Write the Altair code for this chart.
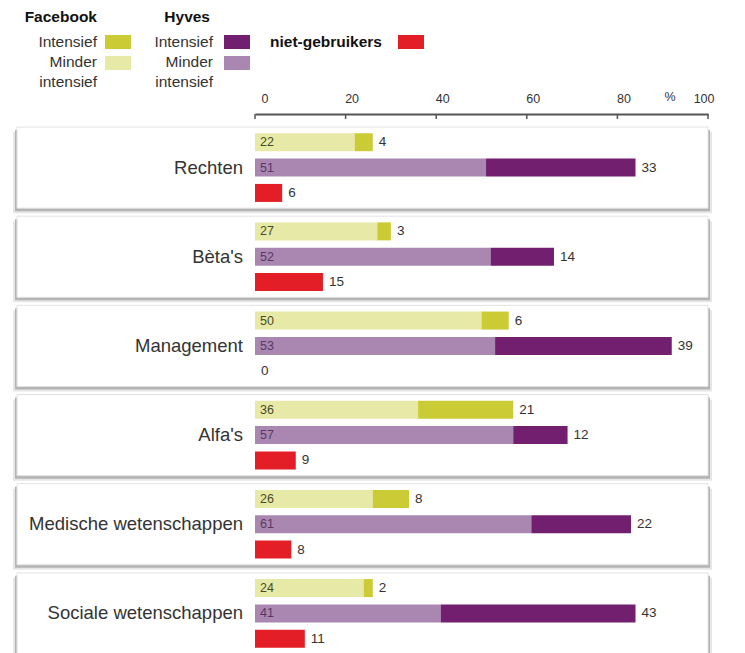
import altair as alt
import pandas as pd

categories = ["Rechten", "Bèta's", "Management", "Alfa's",
              "Medische wetenschappen", "Sociale wetenschappen"]
fb_minder = [22, 27, 50, 36, 26, 24]
fb_intensief = [4, 3, 6, 21, 8, 2]
hyves_minder = [51, 52, 53, 57, 61, 41]
hyves_intensief = [33, 14, 39, 12, 22, 43]
niet_gebruikers = [6, 15, 0, 9, 8, 11]
axis_ticks = [0, 20, 40, 60, 80, 100]

series_order = ["fb", "hyves", "niet"]
seg_domain = ["fb_min", "fb_int", "hy_min", "hy_int", "niet"]
seg_colors = ["#e7e9a6", "#cbcb35", "#a987b0", "#731f6f", "#e31e26"]

FONT = "Liberation Sans, Arial, sans-serif"

# ---- build tables ----
seg_rows, fb_inner, hy_inner, outer_rows = [], [], [], []
for i, c in enumerate(categories):
    seg_rows += [
        dict(cat=c, series="fb", seg="fb_min", start=0, end=fb_minder[i]),
        dict(cat=c, series="fb", seg="fb_int", start=fb_minder[i], end=fb_minder[i] + fb_intensief[i]),
        dict(cat=c, series="hyves", seg="hy_min", start=0, end=hyves_minder[i]),
        dict(cat=c, series="hyves", seg="hy_int", start=hyves_minder[i], end=hyves_minder[i] + hyves_intensief[i]),
        dict(cat=c, series="niet", seg="niet", start=0, end=niet_gebruikers[i]),
    ]
    fb_inner.append(dict(cat=c, series="fb", pos=0, label=str(fb_minder[i])))
    hy_inner.append(dict(cat=c, series="hyves", pos=0, label=str(hyves_minder[i])))
    outer_rows += [
        dict(cat=c, series="fb", pos=fb_minder[i] + fb_intensief[i], label=str(fb_intensief[i])),
        dict(cat=c, series="hyves", pos=hyves_minder[i] + hyves_intensief[i], label=str(hyves_intensief[i])),
        dict(cat=c, series="niet", pos=niet_gebruikers[i], label=str(niet_gebruikers[i])),
    ]
seg_df = pd.DataFrame(seg_rows)
fb_inner_df = pd.DataFrame(fb_inner)
hy_inner_df = pd.DataFrame(hy_inner)
outer_df = pd.DataFrame(outer_rows)
cat_df = pd.DataFrame({"cat": categories})
tick_df = pd.DataFrame({"v": axis_ticks})

xscale = alt.Scale(domain=[0, 100], range=[247, 700])
yscale = alt.Scale(domain=categories, range=[13, 540], paddingInner=0.09, paddingOuter=0)
Y = alt.Y("cat:N", sort=categories, scale=yscale, axis=None)
YO = alt.YOffset("series:N", sort=series_order,
                 scale=alt.Scale(domain=series_order, paddingInner=0.29, paddingOuter=0.245))

# ---- boxes with shadows ----
shadow_outer = alt.Chart(cat_df).mark_rect(color="#e6e6e6", yOffset=5).encode(
    y=Y, x=alt.value(5), x2=alt.value(704))
shadow_inner = alt.Chart(cat_df).mark_rect(color="#b4b4b4", yOffset=3).encode(
    y=Y, x=alt.value(7), x2=alt.value(702))
boxes = alt.Chart(cat_df).mark_rect(fill="white", stroke="#e2e2e2", strokeWidth=1).encode(
    y=Y, x=alt.value(9), x2=alt.value(700))

cat_text = alt.Chart(cat_df).mark_text(
    align="right", baseline="middle", font=FONT, fontSize=18.5, color="#333333"
).encode(y=Y, x=alt.value(235), text="cat:N")

bars = alt.Chart(seg_df).mark_bar().encode(
    x=alt.X("start:Q", scale=xscale,
            axis=alt.Axis(orient="top", values=axis_ticks, ticks=False, grid=False, title=None,
                          domainColor="#555555", domainWidth=2, labelFont=FONT,
                          labelFontSize=12.5, labelColor="#333333", labelPadding=9,
                          labelOffset=6)),
    x2="end:Q",
    y=Y, yOffset=YO,
    color=alt.Color("seg:N", scale=alt.Scale(domain=seg_domain, range=seg_colors), legend=None),
)

inner_fb = alt.Chart(fb_inner_df).mark_text(
    align="left", baseline="middle", dx=5, font=FONT, fontSize=12.5, color="#4a4a28"
).encode(x=alt.X("pos:Q", scale=xscale), y=Y, yOffset=YO, text="label:N")
inner_hy = alt.Chart(hy_inner_df).mark_text(
    align="left", baseline="middle", dx=5, font=FONT, fontSize=12.5, color="#5a3766"
).encode(x=alt.X("pos:Q", scale=xscale), y=Y, yOffset=YO, text="label:N")
outer = alt.Chart(outer_df).mark_text(
    align="left", baseline="middle", dx=6, font=FONT, fontSize=13.5, color="#333333"
).encode(x=alt.X("pos:Q", scale=xscale), y=Y, yOffset=YO, text="label:N")

ticks = alt.Chart(tick_df).mark_rule(color="#555555", strokeWidth=1.5).encode(
    x=alt.X("v:Q", scale=xscale), y=alt.value(0), y2=alt.value(5))

one = pd.DataFrame({"a": [0]})


def txt(s, x, y, align="right", bold=False, size=15.5, color="#333333"):
    return alt.Chart(one).mark_text(
        text=s, align=align, baseline="middle", font=FONT, fontSize=size,
        fontWeight="bold" if bold else "normal", color=color
    ).encode(x=alt.value(x), y=alt.value(y))


def swatch(color, x, y):
    return alt.Chart(one).mark_rect(color=color).encode(
        x=alt.value(x), x2=alt.value(x + 26), y=alt.value(y), y2=alt.value(y + 14))


legend = [
    txt("Facebook", 89, -97, bold=True, color="#111111"),
    txt("Intensief", 89, -72), txt("Minder", 89, -52), txt("intensief", 89, -32),
    swatch(seg_colors[1], 97, -79), swatch(seg_colors[0], 97, -58),
    txt("Hyves", 202, -97, bold=True, color="#111111"),
    txt("Intensief", 205, -72), txt("Minder", 205, -52), txt("intensief", 205, -32),
    swatch(seg_colors[3], 216, -79), swatch(seg_colors[2], 216, -58),
    txt("niet-gebruikers", 262, -72, align="left", bold=True, color="#111111"),
    swatch(seg_colors[4], 390, -79),
    txt("%", 662, -17, align="center", size=12.5),
]

chart = alt.layer(
    shadow_outer, shadow_inner, boxes, cat_text, bars, inner_fb, inner_hy, outer, ticks, *legend
).properties(
    width=729, height=539,
    background="white",
    autosize=alt.AutoSizeParams(type="none"),
    padding={"left": 0, "top": 106, "right": 0, "bottom": 0},
).configure_view(stroke="transparent", strokeWidth=0)

chart.save("out.html", embed_options={"renderer": "svg", "actions": False})
